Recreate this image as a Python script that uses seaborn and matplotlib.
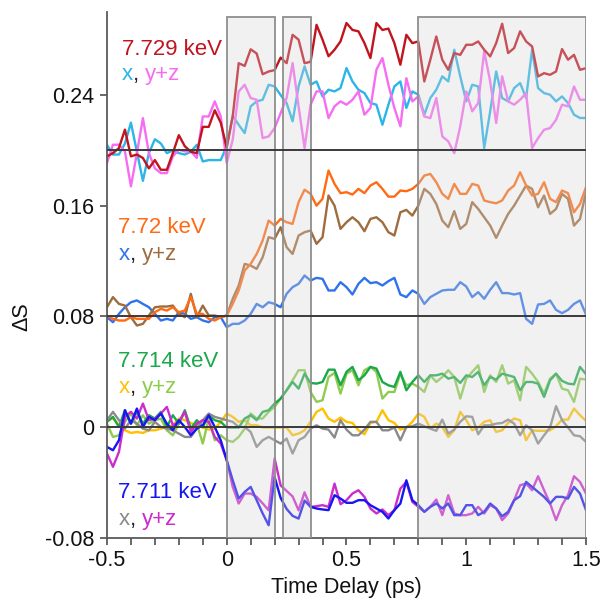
import numpy as np
import pandas as pd
import matplotlib
matplotlib.use("Agg")
import matplotlib.pyplot as plt
from matplotlib.ticker import MultipleLocator, FixedLocator
import seaborn as sns

# ---------------- data ----------------
time_ps = np.round(np.linspace(-0.5, 1.5, 81), 3)

# 7.729 keV band (plotted with offset 0.20)
e7729_total = [0.1957, 0.198, 0.2017, 0.215, 0.1957, 0.197, 0.1945, 0.187, 0.193, 0.186, 0.186, 0.198, 0.211, 0.203, 0.199, 0.198, 0.217, 0.217, 0.229, 0.220, 0.202, 0.2245, 0.263, 0.261, 0.273, 0.270, 0.255, 0.257, 0.258, 0.267, 0.263, 0.2835, 0.280, 0.263,
               0.264, 0.2907, 0.280, 0.268, 0.2727, 0.2787, 0.292, 0.287, 0.286, 0.2775, 0.2667, 0.292, 0.287, 0.288, 0.2775, 0.2619, 0.2835, 0.2775, 0.2787, 0.2498, 0.2655, 0.2823, 0.2655, 0.2582, 0.2703, 0.269, 0.2763, 0.2763, 0.2787, 0.2727, 0.2679, 0.2775, 0.2915, 0.2703, 0.2739, 0.286, 0.2787, 0.2751, 0.2534, 0.2558, 0.2546, 0.257, 0.2732, 0.2655, 0.269, 0.2582, 0.2594]
e7729_x = [0.204, 0.197, 0.197, 0.205, 0.220, 0.199, 0.178, 0.198, 0.208, 0.205, 0.198, 0.200, 0.198, 0.197, 0.199, 0.204, 0.192, 0.193, 0.193, 0.193, 0.203, 0.225, 0.2185, 0.2125, 0.2318, 0.2354, 0.2366, 0.2474, 0.2462, 0.240, 0.2342, 0.221, 0.2462, 0.2607,
           0.2474, 0.2498, 0.239, 0.2438, 0.2426, 0.245, 0.2595, 0.2498, 0.2438, 0.2414, 0.2342, 0.233, 0.2185, 0.233, 0.2462, 0.2498, 0.2306, 0.2426, 0.2402, 0.2258, 0.2378, 0.2438, 0.2535, 0.2498, 0.2727, 0.2535, 0.2354, 0.2474, 0.2462, 0.2017, 0.2282, 0.257, 0.2378, 0.2354, 0.245, 0.2486, 0.2378, 0.2727, 0.245, 0.2414, 0.2402, 0.2354, 0.239, 0.2342, 0.2258, 0.2234, 0.2234]
e7729_yz = [0.1909, 0.2041, 0.2041, 0.1993, 0.174, 0.198, 0.2233, 0.198, 0.187, 0.1836, 0.1836, 0.1957, 0.2005, 0.1993, 0.1993, 0.1945, 0.2245, 0.2245, 0.2354, 0.2245, 0.1909, 0.2077, 0.2426, 0.2474, 0.2378, 0.2366, 0.2089, 0.2101, 0.2161, 0.2269, 0.2378, 0.2631, 0.2318, 0.2017,
            0.233, 0.2426, 0.2426, 0.2233, 0.2318, 0.2354, 0.233, 0.2366, 0.2426, 0.2258, 0.2306, 0.2583, 0.2667, 0.2474, 0.2306, 0.2174, 0.2522, 0.2354, 0.239, 0.2245, 0.2233, 0.2378, 0.2101, 0.2065, 0.198, 0.2174, 0.2426, 0.2282, 0.2342, 0.2715, 0.2498, 0.2198, 0.2535, 0.2354, 0.233, 0.2366, 0.2414, 0.2017, 0.2089, 0.2149, 0.2161, 0.2221, 0.233, 0.2318, 0.2462, 0.2366, 0.2366]

# 7.72 keV band (offset 0.08)
e772_total = [0.0807, 0.0783, 0.0771, 0.0771, 0.0795, 0.0783, 0.0783, 0.0783, 0.0831, 0.0855, 0.0843, 0.0867, 0.0831, 0.0843, 0.094, 0.0819, 0.0819, 0.0783, 0.0771, 0.0795, 0.0807, 0.0891, 0.0988, 0.1132, 0.118, 0.1252, 0.1349, 0.1493, 0.1457, 0.1505, 0.1481, 0.1469, 0.1626, 0.1716,
              0.1686, 0.1601, 0.165, 0.1854, 0.1758, 0.1691, 0.1698, 0.1681, 0.1722, 0.1691, 0.1746, 0.177, 0.1722, 0.1666, 0.1666, 0.171, 0.1705, 0.1722, 0.1758, 0.1818, 0.183, 0.177, 0.1686, 0.165, 0.1758, 0.1686, 0.1686, 0.1758, 0.1746, 0.1638, 0.1626, 0.1618, 0.1638, 0.171, 0.1746, 0.1842, 0.1746, 0.1674, 0.1686, 0.177, 0.165, 0.1626, 0.171, 0.1691, 0.1553, 0.1613, 0.1734]
e772_x = [0.0795, 0.0759, 0.0819, 0.0867, 0.0903, 0.0916, 0.0891, 0.0867, 0.0819, 0.0771, 0.0783, 0.0771, 0.0831, 0.0819, 0.0783, 0.0795, 0.0771, 0.0759, 0.0795, 0.0795, 0.0723, 0.0747, 0.0747, 0.0771, 0.0819, 0.0891, 0.0867, 0.0903, 0.0891, 0.0867, 0.0964, 0.1012, 0.1036, 0.1096,
          0.106, 0.1079, 0.1072, 0.0988, 0.0988, 0.1048, 0.1012, 0.0959, 0.1036, 0.1079, 0.1041, 0.1048, 0.1024, 0.1055, 0.1079, 0.0959, 0.094, 0.0988, 0.0964, 0.0891, 0.094, 0.0964, 0.0988, 0.0993, 0.0993, 0.1048, 0.1017, 0.094, 0.0976, 0.0928, 0.0993, 0.1048, 0.0969, 0.0969, 0.0959, 0.0969, 0.0783, 0.0747, 0.0887, 0.0891, 0.0916, 0.0848, 0.0824, 0.0848, 0.0891, 0.0916, 0.0814]
e772_yz = [0.0867, 0.094, 0.0891, 0.0879, 0.0795, 0.0735, 0.0747, 0.0807, 0.0867, 0.0872, 0.0872, 0.0879, 0.0819, 0.0795, 0.0964, 0.0795, 0.0879, 0.0807, 0.0807, 0.0795, 0.0807, 0.0928, 0.1024, 0.118, 0.1168, 0.1144, 0.1228, 0.1373, 0.1361, 0.1445, 0.1301, 0.1252, 0.1385, 0.1409,
           0.1421, 0.1325, 0.1373, 0.1674, 0.1601, 0.1433, 0.1481, 0.1517, 0.1481, 0.1416, 0.1505, 0.1517, 0.1481, 0.1409, 0.1385, 0.1553, 0.157, 0.1529, 0.1601, 0.1722, 0.1686, 0.1613, 0.1493, 0.1445, 0.1561, 0.1433, 0.1469, 0.1626, 0.1577, 0.1517, 0.1457, 0.1368, 0.1457, 0.1541, 0.1601, 0.1674, 0.1746, 0.1722, 0.1589, 0.1674, 0.1541, 0.1577, 0.1686, 0.165, 0.1457, 0.1505, 0.1698]

# 7.714 keV band (offset 0)
e7714_total = [0.0039, 0.0075, 0.0002, 0.0123, 0.0026, 0.0111, 0.0026, 0.0087, 0.0063, 0.0111, 0.0002, 0.0087, 0.0026, 0.0123, -0.001, 0.0051, 0.0002, 0.0087, 0.0051, 0.0039, -0.0002, -0.0002, -0.0002, 0.0063, 0.0087, 0.0051, 0.0111, 0.0123, 0.0171, 0.0207, 0.0267, 0.0327, 0.0279, 0.0387,
               0.032, 0.0315, 0.0327, 0.0416, 0.0416, 0.0303, 0.04, 0.0436, 0.0339, 0.0375, 0.0436, 0.0424, 0.0327, 0.0303, 0.0291, 0.04, 0.0267, 0.0327, 0.0375, 0.0327, 0.0375, 0.0375, 0.0387, 0.0351, 0.0363, 0.032, 0.0375, 0.0363, 0.04, 0.0303, 0.0363, 0.0344, 0.0387, 0.0375, 0.0363, 0.0267, 0.0327, 0.0327, 0.0315, 0.0219, 0.0339, 0.0387, 0.0335, 0.0315, 0.031, 0.0436, 0.0383]
e7714_x = [0.0051, 0.0063, 0.0014, -0.0022, -0.0041, -0.0034, -0.0041, -0.0022, -0.0022, -0.001, -0.0002, 0.0014, 0.0063, 0.0051, 0.0031, 0.0014, -0.0002, -0.0017, -0.001, 0.0039, 0.0099, 0.0075, 0.0039, 0.0051, 0.0014, 0.0014, -0.0002, -0.0002, -0.0002, -0.0002, -0.0002, -0.0058, -0.0046, -0.0022,
           0.0039, 0.0111, 0.0135, 0.0063, 0.0039, 0.007, 0.0039, 0.0031, -0.0022, -0.0051, 0.0031, 0.0039, 0.0123, 0.0051, 0.0031, -0.0017, -0.0002, 0.0039, 0.0099, 0.0075, -0.001, 0.0026, 0.0002, -0.007, -0.0022, 0.0111, 0.0051, -0.0022, -0.0002, 0.0039, 0.0051, -0.0034, -0.0022, 0.0031, 0.0063, 0.0051, -0.0094, -0.0022, -0.0026, -0.0026, -0.0022, 0.0007, 0.0055, 0.0055, 0.0135, 0.0087, 0.0046]
e7714_yz = [0.0026, -0.007, -0.0058, 0.0039, 0.0099, 0.0014, 0.0087, 0.0026, 0.0051, 0.0063, -0.0022, -0.0058, 0.0026, 0.0111, -0.001, 0.0026, -0.0118, 0.0063, -0.0094, -0.0058, -0.0094, -0.0106, -0.007, -0.001, 0.0099, 0.0063, 0.0063, 0.0111, 0.0147, 0.0207, 0.0267, 0.0339, 0.0412, 0.0412,
            0.0255, 0.0183, 0.0195, 0.0363, 0.0392, 0.0243, 0.0387, 0.0412, 0.0303, 0.0412, 0.0436, 0.04, 0.0207, 0.0255, 0.0255, 0.0387, 0.0303, 0.0315, 0.0291, 0.0255, 0.0375, 0.0327, 0.0363, 0.0412, 0.0363, 0.0207, 0.0351, 0.04, 0.0448, 0.0255, 0.0375, 0.0327, 0.0448, 0.0315, 0.0339, 0.0195, 0.0436, 0.0387, 0.0327, 0.0243, 0.0351, 0.0387, 0.0279, 0.0267, 0.0183, 0.0351, 0.0344]

# 7.711 keV band (offset 0)
e7711_total = [-0.0142, -0.0166, -0.0094, 0.0123, 0.0026, 0.0135, 0.0002, 0.0075, 0.0051, 0.0099, 0.0026, -0.0022, 0.0051, 0.0002, -0.0058, -0.001, 0.0014, 0.0087, 0.0002, -0.0094, -0.0238, -0.0383, -0.0515, -0.0467, -0.0431, -0.0527, -0.0623, -0.0708, -0.036, -0.051, -0.059, -0.064, -0.066, -0.053,
               -0.0575, -0.0587, -0.0594, -0.0599, -0.0491, -0.0515, -0.0546, -0.0546, -0.0527, -0.0527, -0.0563, -0.0587, -0.0611, -0.0659, -0.0599, -0.0551, -0.0383, -0.0527, -0.0563, -0.0611, -0.0575, -0.0551, -0.0587, -0.0551, -0.0635, -0.0635, -0.0563, -0.0563, -0.0635, -0.0611, -0.0551, -0.0587, -0.0643, -0.0611, -0.0527, -0.0498, -0.0395, -0.0431, -0.0467, -0.0503, -0.0551, -0.0503, -0.0503, -0.0515, -0.0431, -0.0479, -0.0599]
e7711_x = [0.0051, 0.0111, 0.0051, -0.001, 0.0051, 0.0026, -0.001, -0.0022, 0.0039, 0.0002, -0.001, -0.0022, -0.0046, -0.007, -0.007, -0.001, 0.0051, 0.0099, 0.0075, 0.0063, 0.0051, 0.0039, 0.0002, 0.0002, -0.0034, -0.0142, -0.0094, -0.007, -0.0094, -0.0118, -0.0082, -0.019, -0.0094, -0.007,
           -0.001, 0.0014, -0.001, -0.0017, -0.0075, 0.0051, -0.0017, -0.0058, -0.0058, -0.0017, 0.0039, 0.0039, -0.0022, -0.0022, -0.0002, -0.0094, 0.0002, 0.0007, 0.0026, 0.0007, -0.001, -0.0026, 0.0055, -0.0046, -0.0017, 0.0039, 0.0079, 0.0075, -0.0051, 0.0014, 0.0014, 0.0026, 0.0031, 0.0055, 0.0026, -0.0058, 0.0014, -0.0022, -0.0118, -0.0058, -0.0002, 0.0152, 0.0051, -0.0002, -0.0058, -0.0065, -0.0106]
e7711_yz = [-0.019, -0.0286, -0.0178, 0.0075, 0.0111, 0.0063, 0.0171, 0.0051, 0.0063, 0.0099, 0.0147, 0.0014, 0.0039, 0.0111, -0.0034, 0.0026, 0.0051, 0.0039, -0.007, -0.0118, -0.0238, -0.0431, -0.0551, -0.0479, -0.0479, -0.0503, -0.055, -0.06, -0.0226, -0.042, -0.046, -0.05, -0.06, -0.047,
            -0.0575, -0.057, -0.0563, -0.0575, -0.0407, -0.0556, -0.0527, -0.0479, -0.0455, -0.0503, -0.0587, -0.0623, -0.0594, -0.0635, -0.0599, -0.0443, -0.0395, -0.0539, -0.0575, -0.0611, -0.0575, -0.0522, -0.0635, -0.0491, -0.0623, -0.0635, -0.0635, -0.0623, -0.0575, -0.0623, -0.0563, -0.0587, -0.0671, -0.0623, -0.0527, -0.0419, -0.0407, -0.0455, -0.0354, -0.0455, -0.0551, -0.0671, -0.0563, -0.0491, -0.0354, -0.0395, -0.0479]

band_baselines = [0.20, 0.08, 0.0]
shade_windows = [(0.0, 0.2), (0.235, 0.35), (0.8, 1.5)]
x_ticks = [-0.5, 0, 0.5, 1, 1.5]
x_tick_labels = ["-0.5", "0", "0.5", "1", "1.5"]
y_ticks = [-0.08, 0, 0.08, 0.16, 0.24]
y_tick_labels = ["-0.08", "0", "0.08", "0.16", "0.24"]

series = {
    "7.729 x": (e7729_x, "#2bb5e8"),
    "7.729 y+z": (e7729_yz, "#f76df2"),
    "7.729": (e7729_total, "#c0141e"),
    "7.72 x": (e772_x, "#2f73ec"),
    "7.72 y+z": (e772_yz, "#9e6c3e"),
    "7.72": (e772_total, "#ff6a13"),
    "7.714 x": (e7714_x, "#ffc000"),
    "7.714 y+z": (e7714_yz, "#8dcc4e"),
    "7.714": (e7714_total, "#1aa84a"),
    "7.711 x": (e7711_x, "#8a8a8a"),
    "7.711 y+z": (e7711_yz, "#cc2ccc"),
    "7.711": (e7711_total, "#1616f2"),
}

frames = []
for name, (vals, _) in series.items():
    frames.append(pd.DataFrame({"time": time_ps, "dS": vals, "series": name}))
df = pd.concat(frames, ignore_index=True)
palette = {k: v[1] for k, v in series.items()}

# ---------------- drawing ----------------
sns.set_theme(style="ticks")
plt.rcParams["font.family"] = ["Liberation Sans", "DejaVu Sans"]
plt.rcParams["axes.unicode_minus"] = False

fig = plt.figure(figsize=(6.02, 6.04), dpi=100)
ax = fig.add_axes([0.1777, 0.1093, 0.7957, 0.8709])

sns.lineplot(data=df, x="time", y="dS", hue="series", hue_order=list(series.keys()),
             palette=palette, estimator=None, sort=False, legend=False,
             linewidth=1.7, ax=ax, zorder=2)

for x0, x1 in shade_windows:
    ax.axvspan(x0, x1, ymin=0, ymax=0.99, facecolor=(0.83, 0.83, 0.83, 0.32),
               edgecolor="#8f8f8f", linewidth=1.3, zorder=3)

for b in band_baselines:
    ax.axhline(b, color="#3a3a3a", linewidth=1.4, zorder=4)

ax.set_xlim(-0.5, 1.5)
ax.set_ylim(-0.08, 0.3)
ax.xaxis.set_major_locator(FixedLocator(x_ticks))
ax.set_xticklabels(x_tick_labels)
ax.xaxis.set_minor_locator(MultipleLocator(0.1))
ax.yaxis.set_major_locator(FixedLocator(y_ticks))
ax.set_yticklabels(y_tick_labels)

ax.tick_params(axis="both", which="both", direction="out", length=5, width=1.1,
               color="#404040", labelsize=15.5, labelcolor="#111111", pad=4)
ax.tick_params(axis="y", which="minor", left=False)

sns.despine(ax=ax, top=True, right=True)
for side in ["left", "bottom"]:
    ax.spines[side].set_color("#5a5a5a")
    ax.spines[side].set_linewidth(1.3)

ax.set_xlabel("Time Delay (ps)", fontsize=15.5, color="#111111")
ax.set_ylabel("ΔS", fontsize=15.5, color="#111111")
ax.yaxis.set_label_coords(-0.155, 0.42)

# band labels
labels = [
    ("7.729 keV", "#c0141e", "#2bb5e8", "#f76df2", -0.438, 0.2686, 0.2505),
    ("7.72 keV", "#ff6a13", "#2f73ec", "#9e6c3e", -0.452, 0.1401, 0.1206),
    ("7.714 keV", "#1aa84a", "#ffc000", "#8dcc4e", -0.452, 0.0433, 0.0245),
    ("7.711 keV", "#1616f2", "#8a8a8a", "#cc2ccc", -0.452, -0.0513, -0.0708),
]
fs = 16
for title, ct, cx, cyz, x0, y1, y2 in labels:
    ax.text(x0, y1, title, color=ct, fontsize=fs, va="baseline", ha="left", zorder=6)
    t1 = ax.text(x0, y2, "x", color=cx, fontsize=fs, va="baseline", ha="left", zorder=6)
    t2 = ax.annotate(",", xy=(1, 0), xycoords=t1, va="bottom", ha="left",
                     color="#222222", fontsize=fs, zorder=6)
    ax.annotate("y+z", xy=(1, 0), xycoords=t2, xytext=(4.5, 0), textcoords="offset points",
                va="bottom", ha="left", color=cyz, fontsize=fs, zorder=6)

fig.savefig("out.png", dpi=100, facecolor="white")
